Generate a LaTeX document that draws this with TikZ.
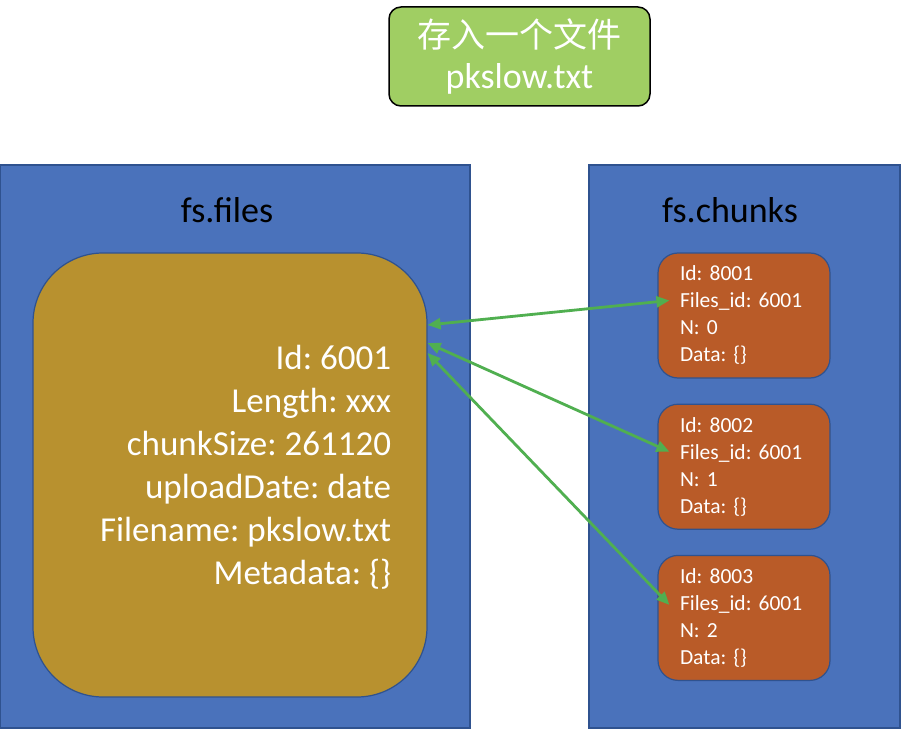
\documentclass[tikz,border=0pt]{standalone}
\usepackage{fontspec}
\setmainfont{Carlito}
\newfontfamily\cjk{Noto Sans CJK SC}
\usetikzlibrary{arrows.meta,positioning,calc}
\definecolor{boxblue}{RGB}{74,114,187}
\definecolor{edgeblue}{RGB}{47,82,143}
\definecolor{titlegreen}{RGB}{160,206,99}
\definecolor{metagold}{RGB}{184,145,47}
\definecolor{chunkorange}{RGB}{185,91,40}
\definecolor{linkgreen}{RGB}{80,175,80}
\frenchspacing

\begin{document}
\begin{tikzpicture}[x=1pt, y=-1pt, >={Triangle[length=13pt,width=11pt]},
    coll/.style={draw=edgeblue, line width=1.2pt, fill=boxblue, minimum height=563pt, inner sep=0pt},
    chunk/.style={draw=edgeblue, line width=1.2pt, fill=chunkorange, rounded corners=20pt, text=white,
        font=\fontsize{21.5}{27}\selectfont, align=left, text width=128pt, inner xsep=22pt,
        minimum height=125pt, node distance=25pt},
    link/.style={linkgreen, line width=2.8pt, <->}]
    \useasboundingbox (0,0) rectangle (902,730);
    % collections
    \node[coll, minimum width=470pt] (files) at (235,446.5) {};
    \node[coll, minimum width=311pt] (chunks) at (744.5,446.5) {};
    \node[font=\fontsize{36}{38}\selectfont] (filesname) at (227,210) {fs.files};
    \node[font=\fontsize{36}{38}\selectfont] (chunksname) at (730,210) {fs.chunks};

    % title
    \node[draw=black, line width=1.5pt, fill=titlegreen, rounded corners=12pt, minimum width=261pt,
        minimum height=99pt, text=white, align=center, font=\fontsize{36}{41}\selectfont] (title) at (519.5,56.5)
        {{\cjk\fontsize{34}{41}\selectfont 存入一个文件}\\pkslow.txt};

    % file document
    \node[draw=edgeblue, line width=1.2pt, fill=metagold, rounded corners=70pt, minimum width=394pt,
        minimum height=444pt] (meta) at (230,475) {};
    \node[anchor=east, align=right, text=white, font=\fontsize{35}{43}\selectfont] (metatext)
        at ([xshift=-33pt, yshift=8pt]meta.east)
        {Id: 6001\\Length: xxx\\chunkSize: 261120\\uploadDate: date\\Filename: pkslow.txt\\Metadata: \{\}};

    % chunk documents
    \node[chunk] (c1) at (744,315.5) {Id: 8001\\Files\_id: 6001\\N: 0\\Data: \{\}};
    \node[chunk, below=of c1] (c2) {Id: 8002\\Files\_id: 6001\\N: 1\\Data: \{\}};
    \node[chunk, below=of c2] (c3) {Id: 8003\\Files\_id: 6001\\N: 2\\Data: \{\}};

    \draw[link] ([yshift=150pt]meta.east) -- ([xshift=12pt, yshift=15pt]c1.west);
    \draw[link] ([yshift=132pt]meta.east) -- ([xshift=12pt, yshift=15pt]c2.west);
    \draw[link] ([yshift=122pt]meta.east) -- ([xshift=12pt, yshift=13pt]c3.west);
\end{tikzpicture}
\end{document}
